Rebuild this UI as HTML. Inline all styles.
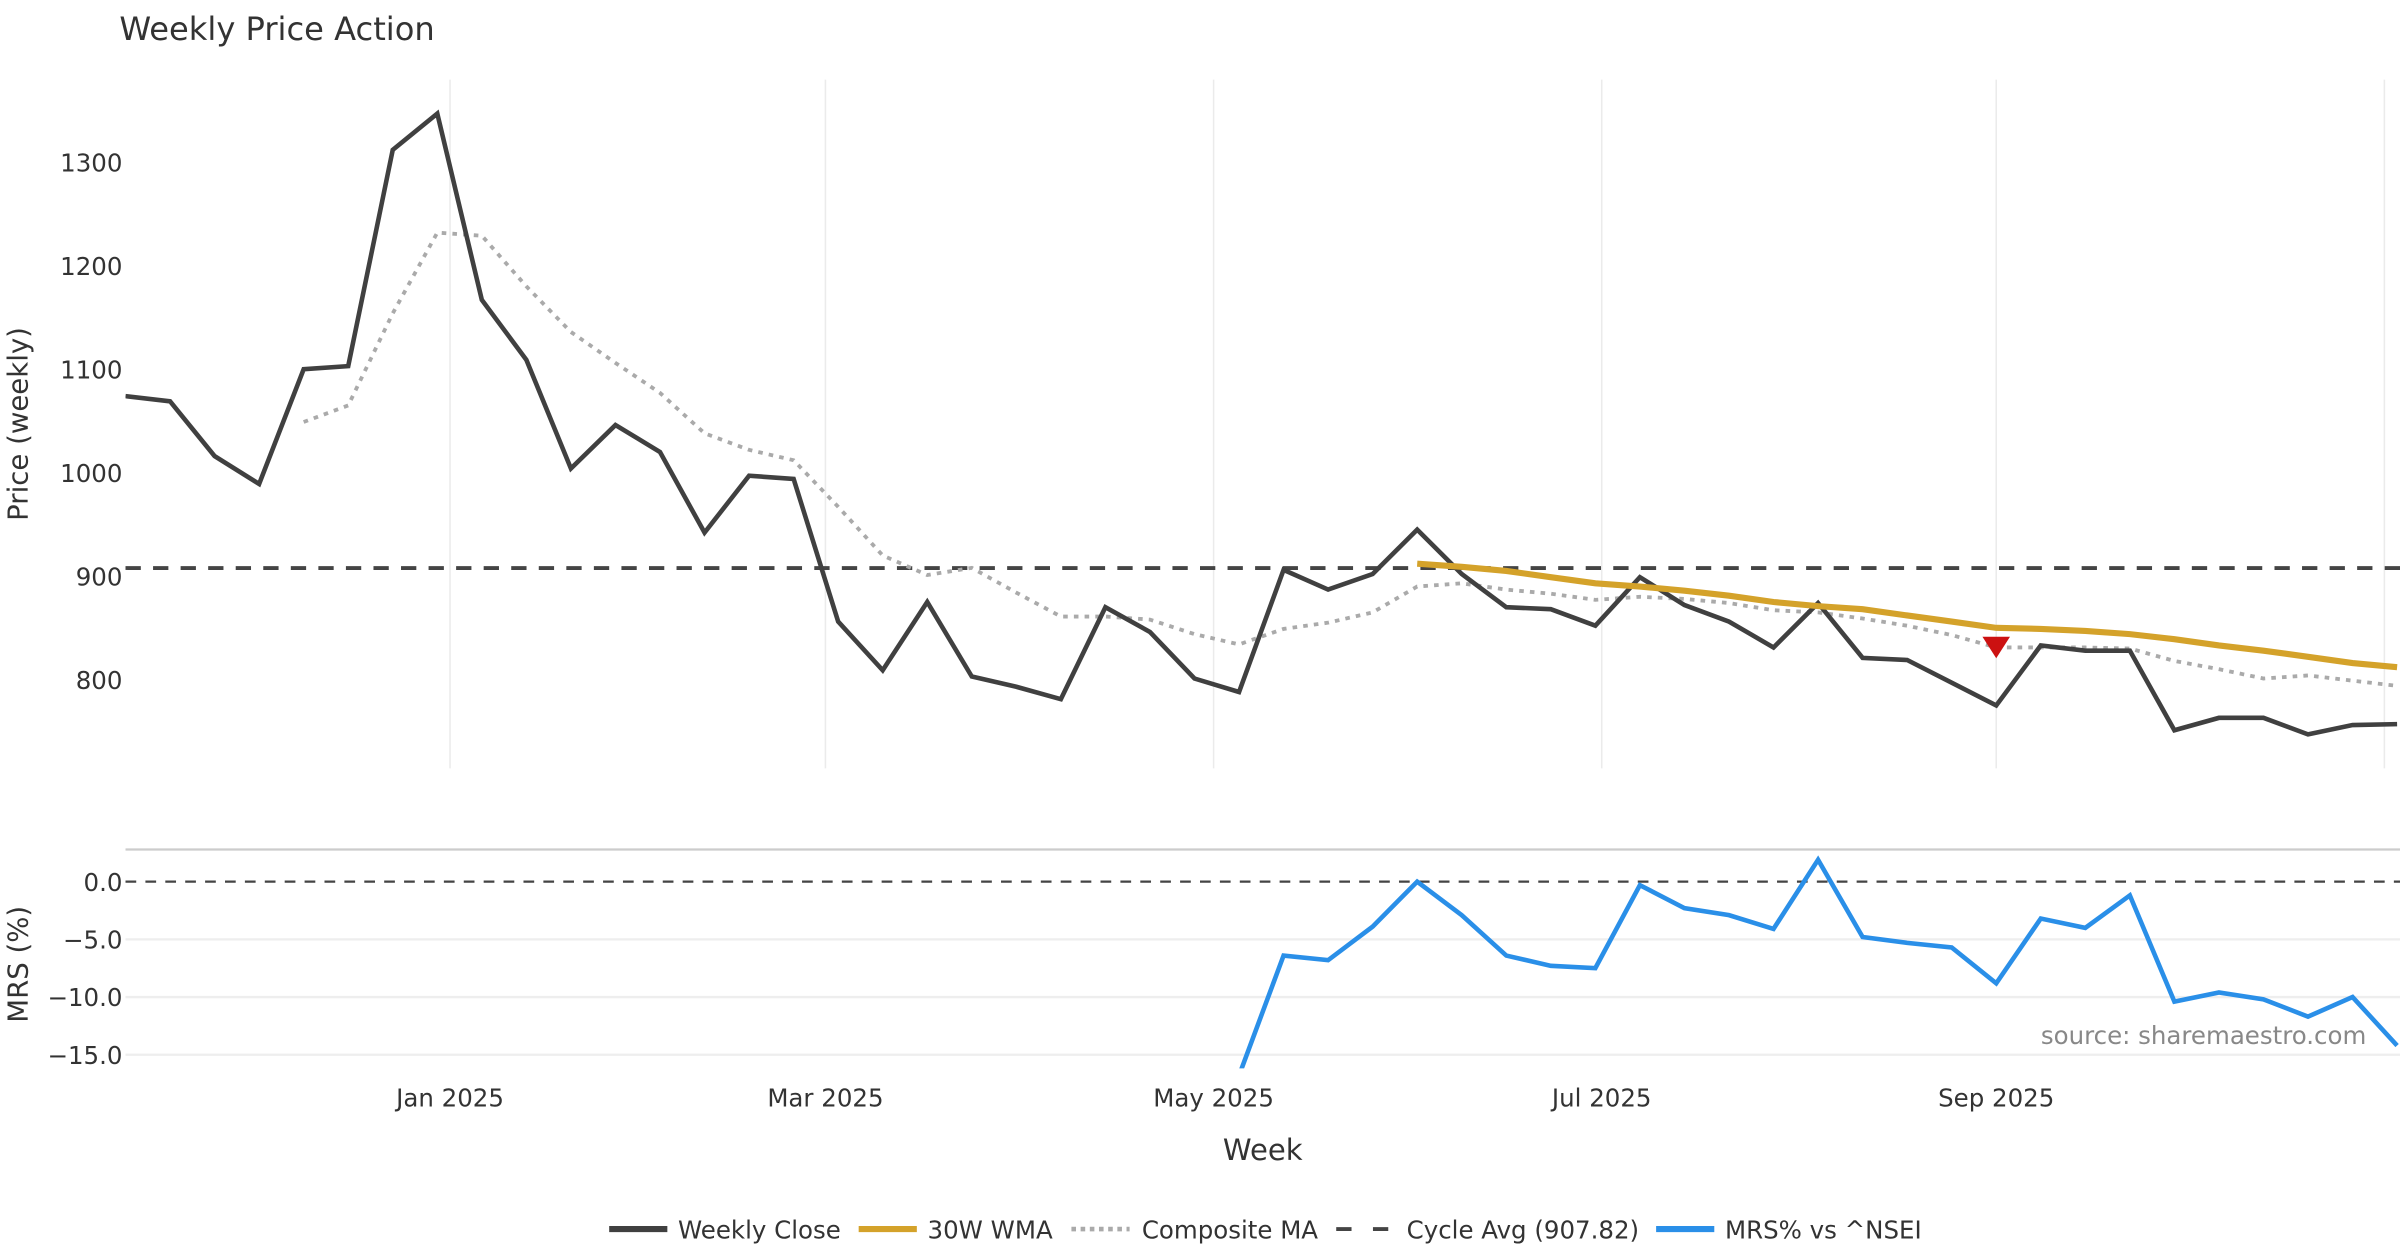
<!DOCTYPE html>
<html><head><meta charset="utf-8"><style>
html,body{margin:0;padding:0;background:#fff;}
svg{display:block;font-family:"DejaVu Sans","Liberation Sans",sans-serif;}
</style></head><body>
<svg id="chart" width="2400" height="1260" viewBox="0 0 1568 823.2" preserveAspectRatio="none" xmlns="http://www.w3.org/2000/svg">
<text x="78" y="26" font-size="21" fill="#333">Weekly Price Action</text>
<g id="grid"></g>
<g id="series"></g>
<text transform="translate(18,277) rotate(-90)" text-anchor="middle" font-size="18" fill="#333">Price (weekly)</text>
<text transform="translate(18,630) rotate(-90)" text-anchor="middle" font-size="18" fill="#333">MRS (%)</text>
<text x="825" y="758" text-anchor="middle" font-size="19" fill="#333">Week</text>
<text x="1546" y="682" text-anchor="end" font-size="16" fill="#888">source: sharemaestro.com</text>
<g font-size="16" fill="#333">
 <line x1="398" y1="803" x2="436" y2="803" stroke="#404040" stroke-width="4"/>
 <text x="443" y="809">Weekly Close</text>
 <line x1="561" y1="803" x2="599" y2="803" stroke="#D4A22A" stroke-width="4"/>
 <text x="606" y="809">30W WMA</text>
 <line x1="700" y1="803" x2="738" y2="803" stroke="#aaa" stroke-width="3" stroke-dasharray="3,3"/>
 <text x="746" y="809">Composite MA</text>
 <line x1="873" y1="803" x2="911" y2="803" stroke="#444" stroke-width="2.5" stroke-dasharray="10,14"/>
 <text x="919" y="809">Cycle Avg (907.82)</text>
 <line x1="1082" y1="803" x2="1120" y2="803" stroke="#2A8FE8" stroke-width="4"/>
 <text x="1127" y="809">MRS% vs ^NSEI</text>
</g>
</svg>
<script>
const closeValues=[1074,1069,1016,989,1100,1103,1312,1347,1167,1109,1004,1046,1020,942,997,994,856,809,875,803,793,781,870,846,801,788,906,887,902,945,902,870,868,852,899,872,856,831,874,821,819,797,775,833,828,828,751,763,763,747,756,757];
const compositeValues=[null,null,null,null,1049,1065,1154,1232,1229,1180,1136,1106,1077,1038,1022,1012,967,920,901,908,884,861,861,858,844,834,849,855,865,890,893,887,883,877,880,878,874,867,865,859,852,843,831,831,831,830,818,810,801,804,799,794];
const wmaValues=[null,null,null,null,null,null,null,null,null,null,null,null,null,null,null,null,null,null,null,null,null,null,null,null,null,null,null,null,null,912,909,905,899,893,890,886,881,875,871,868,862,856,850,849,847,844,839,833,828,822,816,812];
const mrsValues=[null,null,null,null,null,null,null,null,null,null,null,null,null,null,null,null,null,null,null,null,null,null,null,null,null,-16.8,-6.4,-6.8,-3.9,0,-2.9,-6.4,-7.3,-7.5,-0.3,-2.3,-2.9,-4.1,1.9,-4.8,-5.3,-5.7,-8.8,-3.2,-4.0,-1.2,-10.4,-9.6,-10.2,-11.7,-10.0,-14.2];
const cycleAvg=907.82;
const signalIndex=[42];
const signalValue=[831];
const priceTicks=[800,900,1000,1100,1200,1300];
const mrsTicks=[0,-5,-10,-15];
const mrsTickLabels=["0.0","−5.0","−10.0","−15.0"];
const monthTicks=["2025-01-01","2025-03-01","2025-05-01","2025-07-01","2025-09-01","2025-11-01"];
const monthLabels=["Jan 2025","Mar 2025","May 2025","Jul 2025","Sep 2025",""];
const startDate="2024-11-11";

const NS="http://www.w3.org/2000/svg";
const DAY=86400000;
const t0=Date.parse(startDate);
function xDate(s){return 82+(Date.parse(s)-t0)/DAY*(29.1/7);}
function xIdx(i){return 82+i*29.1;}
function yP(v){return 444-(v-800)*0.676;}
function yM(v){return 576-v*7.54;}
function mk(tag,attrs,parent){const e=document.createElementNS(NS,tag);for(const k in attrs)e.setAttribute(k,attrs[k]);parent.appendChild(e);return e;}
const grid=document.getElementById('grid'),ser=document.getElementById('series');

// clip
const defs=mk('defs',{},document.getElementById('chart'));
const cp=mk('clipPath',{id:'cp'},defs);mk('rect',{x:82,y:40,width:1486,height:470},cp);
const cm=mk('clipPath',{id:'cm'},defs);mk('rect',{x:82,y:556,width:1486,height:142},cm);

monthTicks.forEach((m,i)=>{
 const x=xDate(m);
 if(x>1568)return;
 const l=mk('line',{x1:x,y1:52,x2:x,y2:502,stroke:'#ebebeb','stroke-width':1},grid);
 
 
 const t=mk('text',{x:x,y:723,'text-anchor':'middle','font-size':16,fill:'#333'},grid);
 t.textContent=monthLabels[i];
 
 
});
priceTicks.forEach(v=>{
 const t=mk('text',{x:80,y:yP(v)+6,'text-anchor':'end','font-size':16,fill:'#333'},grid);
 t.textContent=String(v);
 
 
});
mrsTicks.forEach((v,i)=>{
 if(v!==0){const g=mk('line',{x1:82,y1:yM(v),x2:1568,y2:yM(v),stroke:'#eee','stroke-width':1.5},grid);
 
 }
 const t=mk('text',{x:80,y:yM(v)+6,'text-anchor':'end','font-size':16,fill:'#333'},grid);
 t.textContent=mrsTickLabels[i];
 
 
});
const sep=mk('line',{x1:82,y1:555,x2:1568,y2:555,stroke:'#ccc','stroke-width':1.5},grid);



function path(vals,yf){let d='';let pen=false;vals.forEach((v,i)=>{if(v==null){pen=false;return;}d+=(pen?'L':'M')+xIdx(i).toFixed(1)+','+yf(v).toFixed(1);pen=true;});return d;}

const cyc=mk('line',{x1:82,y1:yP(cycleAvg),x2:1568,y2:yP(cycleAvg),stroke:'#444','stroke-width':2.5,'stroke-dasharray':'10,8'},ser);


const zl=mk('line',{x1:82,y1:yM(0),x2:1568,y2:yM(0),stroke:'#444','stroke-width':1.5,'stroke-dasharray':'7,6'},ser);



const comp=mk('path',{d:path(compositeValues,yP),fill:'none',stroke:'#aaa','stroke-width':2.5,'stroke-dasharray':'3,4','clip-path':'url(#cp)'},ser);


const cl=mk('path',{d:path(closeValues,yP),fill:'none',stroke:'#404040','stroke-width':3,'stroke-linejoin':'miter','clip-path':'url(#cp)'},ser);


const wma=mk('path',{d:path(wmaValues,yP),fill:'none',stroke:'#D4A22A','stroke-width':4,'clip-path':'url(#cp)'},ser);


signalIndex.forEach((idx,k)=>{
 const x=xIdx(idx),y=yP(signalValue[k]);
 const tri=mk('polygon',{points:`${x-9},${y-7} ${x+9},${y-7} ${x},${y+7}`,fill:'#CC1111'},ser);
 
 
});
const mrs=mk('path',{d:path(mrsValues,yM),fill:'none',stroke:'#2A8FE8','stroke-width':3,'clip-path':'url(#cm)'},ser);


</script>
</body></html>
